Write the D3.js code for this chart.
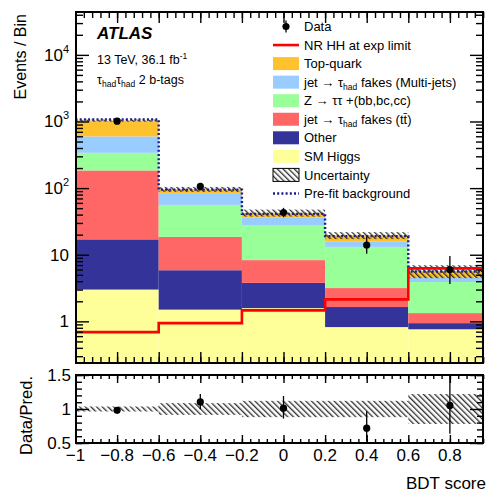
<!DOCTYPE html>
<html><head><meta charset="utf-8">
<script src="https://cdn.jsdelivr.net/npm/d3@7"></script>
<style>
body{margin:0;background:#fff}
svg{display:block;font-family:"Liberation Sans",Arial,Helvetica,sans-serif}
</style>
</head><body>
<svg id="chart" width="487" height="492"></svg>
<script>
// BDT score binning
const binEdges   = [-1, -0.6, -0.2, 0.2, 0.6, 1.0];
const binCenters = [-0.8, -0.4, 0, 0.4, 0.8];

// Background components (events per bin), bottom of the stack first
const smHiggs  = [3.0, 1.5, 1.58, 0.82, 0.76];
const other    = [14.0, 4.35, 2.2, 0.82, 0.18];
const ttFakes  = [167, 12.65, 4.52, 1.52, 0.39];
const zTauTau  = [155, 37.5, 19.1, 9.94, 2.56];
const multijet = [257, 26, 8.6, 2.8, 0.73];
const topQuark = [434, 14, 6.5, 3.6, 1.08];

// Relative total background uncertainty per bin
const relUnc = [0.037, 0.086, 0.12, 0.12, 0.22];

// Pre-fit background total and NR HH signal at the expected limit
const prefit   = [1070, 95, 41, 19, 5.6];
const hhSignal = [0.69, 0.94, 1.46, 2.14, 6.25];

// Observed data with asymmetric Poisson errors
const dataCounts = [1010, 106, 43, 14, 6];
const dataErrLo  = [31.8, 10.3, 6.5, 3.65, 2.38];
const dataErrHi  = [32.8, 11.3, 7.6, 4.83, 3.58];

// Axis tick values
const mainYMajor  = [1, 10, 100, 1000, 10000];
const ratioYMajor = [0.5, 1, 1.5];
const xMajor      = [-1, -0.8, -0.6, -0.4, -0.2, 0, 0.2, 0.4, 0.6, 0.8, 1];
const xLabels     = ["\u22121", "\u22120.8", "\u22120.6", "\u22120.4", "\u22120.2", "0", "0.2", "0.4", "0.6", "0.8", "1"];

const keys = ["smHiggs", "other", "ttFakes", "zTauTau", "multijet", "topQuark"];
const compValues = {smHiggs, other, ttFakes, zTauTau, multijet, topQuark};
const colors = {
  smHiggs: "#ffff99", other: "#333399", ttFakes: "#ff6666",
  zTauTau: "#99ff99", multijet: "#99ccff", topQuark: "#fdc22e"
};

const svg = d3.select("#chart");
const frameL = 76, frameR = 483;
const mainTop = 12, mainBottom = 363, ratTop = 375, ratBottom = 443;

const x  = d3.scaleLinear().domain([-1, 1]).range([75.5, 491.5]);
const y  = d3.scaleLog().domain([0.237, 44000]).range([mainBottom, mainTop]);
const yr = d3.scaleLinear().domain([0.5, 1.5]).range([ratBottom, ratTop]);
const yMin = y.domain()[0];

const defs = svg.append("defs");
defs.append("clipPath").attr("id", "clipMain").append("rect")
  .attr("x", frameL).attr("y", mainTop).attr("width", frameR - frameL).attr("height", mainBottom - mainTop);
defs.append("clipPath").attr("id", "clipRatio").append("rect")
  .attr("x", frameL).attr("y", ratTop).attr("width", frameR - frameL).attr("height", ratBottom - ratTop);
const pat = defs.append("pattern").attr("id", "hatch")
  .attr("patternUnits", "userSpaceOnUse").attr("width", 4).attr("height", 4)
  .attr("patternTransform", "rotate(-45)");
pat.append("line").attr("x1", 0.7).attr("y1", 0).attr("x2", 0.7).attr("y2", 4)
  .attr("stroke", "#1a1a1a").attr("stroke-width", 1.2);

// ---------- main panel ----------
const rows = binCenters.map((c, i) => {
  const r = {x0: binEdges[i], x1: binEdges[i + 1]};
  keys.forEach(k => r[k] = compValues[k][i]);
  return r;
});
const stacked = d3.stack().keys(keys)(rows);
const totals = rows.map(r => d3.sum(keys, k => r[k]));

const gMain = svg.append("g").attr("clip-path", "url(#clipMain)");
stacked.forEach(layer => {
  gMain.append("g").attr("fill", colors[layer.key])
    .selectAll("rect").data(layer).join("rect")
    .attr("x", d => x(d.data.x0))
    .attr("width", d => x(d.data.x1) - x(d.data.x0))
    .attr("y", d => y(d[1]))
    .attr("height", d => y(Math.max(d[0], yMin)) - y(d[1]));
});

// uncertainty band around the total
gMain.append("g").selectAll("rect").data(totals).join("rect")
  .attr("x", (t, i) => x(binEdges[i]))
  .attr("width", (t, i) => x(binEdges[i + 1]) - x(binEdges[i]))
  .attr("y", (t, i) => y(t * (1 + relUnc[i])))
  .attr("height", (t, i) => y(t * (1 - relUnc[i])) - y(t * (1 + relUnc[i])))
  .attr("fill", "url(#hatch)");

const stepPts = vals => vals.map((v, i) => [binEdges[i], v]).concat([[binEdges[vals.length], vals[vals.length - 1]]]);
const stepLine = d3.line().x(d => x(d[0])).y(d => y(d[1])).curve(d3.curveStepAfter);

gMain.append("path").attr("d", stepLine(stepPts(prefit)))
  .attr("fill", "none").attr("stroke", "#1c1c8a").attr("stroke-width", 2.4)
  .attr("stroke-dasharray", "2,2.2");
gMain.append("path").attr("d", stepLine(stepPts(hhSignal)))
  .attr("fill", "none").attr("stroke", "#ff0000").attr("stroke-width", 2.6);

const gData = gMain.append("g");
gData.selectAll("line").data(dataCounts).join("line")
  .attr("x1", (d, i) => x(binCenters[i])).attr("x2", (d, i) => x(binCenters[i]))
  .attr("y1", (d, i) => y(d - dataErrLo[i])).attr("y2", (d, i) => y(d + dataErrHi[i]))
  .attr("stroke", "#000").attr("stroke-width", 1.3);
gData.selectAll("circle").data(dataCounts).join("circle")
  .attr("cx", (d, i) => x(binCenters[i])).attr("cy", d => y(d)).attr("r", 3.6).attr("fill", "#000");

// ---------- ratio panel ----------
const gRat = svg.append("g").attr("clip-path", "url(#clipRatio)");
gRat.selectAll("rect").data(relUnc).join("rect")
  .attr("x", (u, i) => x(binEdges[i]))
  .attr("width", (u, i) => x(binEdges[i + 1]) - x(binEdges[i]))
  .attr("y", u => yr(1 + u)).attr("height", u => yr(1 - u) - yr(1 + u))
  .attr("fill", "url(#hatch)");
const ratios = dataCounts.map((d, i) => d / totals[i]);
gRat.selectAll("line").data(ratios).join("line")
  .attr("x1", (r, i) => x(binCenters[i])).attr("x2", (r, i) => x(binCenters[i]))
  .attr("y1", (r, i) => yr(r - dataErrLo[i] / totals[i])).attr("y2", (r, i) => yr(r + dataErrHi[i] / totals[i]))
  .attr("stroke", "#000").attr("stroke-width", 1.3);
gRat.selectAll("circle").data(ratios).join("circle")
  .attr("cx", (r, i) => x(binCenters[i])).attr("cy", r => yr(r)).attr("r", 3.6).attr("fill", "#000");

// ---------- frames and ticks ----------
function frame(top, bottom) {
  svg.append("rect").attr("x", frameL).attr("y", top).attr("width", frameR - frameL).attr("height", bottom - top)
    .attr("fill", "none").attr("stroke", "#000").attr("stroke-width", 2);
}
function ticks(axisFn, scale, values, size, transform) {
  const g = svg.append("g").attr("transform", transform)
    .call(axisFn(scale).tickValues(values).tickSize(size).tickFormat(""));
  g.select(".domain").remove();
  g.selectAll(".tick line").attr("stroke", "#000").attr("stroke-width", 1.4);
}
const inX = v => x(v) >= frameL - 0.5 && x(v) <= frameR + 0.5;
const xMinor = d3.range(0, 51).map(k => -1 + k * 0.04).filter(v => inX(v));
const xMaj = xMajor.filter(inX);

// main panel
const logMinor = [];
[0.1, 1, 10, 100, 1000, 10000].forEach(dec => {
  for (let m = 2; m <= 9; m++) { const v = dec * m; if (v > yMin && v < y.domain()[1]) logMinor.push(v); }
});
ticks(d3.axisLeft, y, mainYMajor, -13, `translate(${frameL},0)`);
ticks(d3.axisLeft, y, logMinor, -7, `translate(${frameL},0)`);
ticks(d3.axisRight, y, mainYMajor, -13, `translate(${frameR},0)`);
ticks(d3.axisRight, y, logMinor, -7, `translate(${frameR},0)`);
ticks(d3.axisBottom, x, xMaj, -11, `translate(0,${mainBottom})`);
ticks(d3.axisBottom, x, xMinor, -6, `translate(0,${mainBottom})`);
ticks(d3.axisTop, x, xMaj, -11, `translate(0,${mainTop})`);
ticks(d3.axisTop, x, xMinor, -6, `translate(0,${mainTop})`);
frame(mainTop, mainBottom);

// ratio panel
const rMinor = d3.range(0.5, 1.51, 0.1);
ticks(d3.axisLeft, yr, ratioYMajor, -13, `translate(${frameL},0)`);
ticks(d3.axisLeft, yr, rMinor, -6, `translate(${frameL},0)`);
ticks(d3.axisRight, yr, ratioYMajor, -13, `translate(${frameR},0)`);
ticks(d3.axisRight, yr, rMinor, -6, `translate(${frameR},0)`);
ticks(d3.axisBottom, x, xMaj, -8, `translate(0,${ratBottom})`);
ticks(d3.axisBottom, x, xMinor, -4, `translate(0,${ratBottom})`);
ticks(d3.axisTop, x, xMaj, -8, `translate(0,${ratTop})`);
ticks(d3.axisTop, x, xMinor, -4, `translate(0,${ratTop})`);
frame(ratTop, ratBottom);

// ---------- tick labels ----------
const expSup = {100: "2", 1000: "3", 10000: "4"};
mainYMajor.forEach(v => {
  const t = svg.append("text").attr("x", 69).attr("y", y(v) + 6)
    .attr("text-anchor", "end").attr("font-size", 17).attr("fill", "#000");
  if (v === 1) t.text("1");
  else if (v === 10) t.text("10");
  else {
    t.append("tspan").text("10");
    t.append("tspan").attr("font-size", 11).attr("dy", -8).text(expSup[v]);
  }
});
ratioYMajor.forEach(v => {
  svg.append("text").attr("x", 71).attr("y", yr(v) + 6).attr("text-anchor", "end")
    .attr("font-size", 17).attr("fill", "#000").text(String(v));
});
// x labels only for ticks that sit inside the frame
xMajor.forEach((v, i) => {
  if (!inX(v)) return;
  svg.append("text").attr("x", x(v)).attr("y", 461).attr("text-anchor", "middle")
    .attr("font-size", 17).attr("fill", "#000").text(xLabels[i]);
});

// axis titles
svg.append("text").attr("transform", `translate(26,14) rotate(-90)`).attr("text-anchor", "end")
  .attr("font-size", 16).attr("fill", "#000").text("Events / Bin");
svg.append("text").attr("transform", `translate(32,376) rotate(-90)`).attr("text-anchor", "end")
  .attr("font-size", 16.5).attr("fill", "#000").text("Data/Pred.");
svg.append("text").attr("x", 486).attr("y", 489).attr("text-anchor", "end")
  .attr("font-size", 17).attr("fill", "#000").text("BDT score");

// ---------- ATLAS labels ----------
svg.append("text").attr("x", 97).attr("y", 39).attr("font-size", 17).attr("font-weight", "bold")
  .attr("font-style", "italic").attr("fill", "#000").text("ATLAS");
const lumi = svg.append("text").attr("x", 97).attr("y", 64).attr("font-size", 12.5).attr("fill", "#000");
lumi.append("tspan").text("13 TeV, 36.1 fb");
lumi.append("tspan").attr("font-size", 8.5).attr("dy", -5).text("-1");
const chan = svg.append("text").attr("x", 97).attr("y", 84).attr("font-size", 12.5).attr("fill", "#000");
chan.append("tspan").text("\u03c4");
chan.append("tspan").attr("font-size", 8.5).attr("dy", 3).text("had");
chan.append("tspan").attr("dy", -3).text("\u03c4");
chan.append("tspan").attr("font-size", 8.5).attr("dy", 3).text("had");
chan.append("tspan").attr("dy", -3).text(" 2 b-tags");

// ---------- legend ----------
const legendItems = [
  {type: "data",   parts: [["Data"]]},
  {type: "line",   parts: [["NR HH at exp limit"]]},
  {type: "box",    key: "topQuark", parts: [["Top-quark"]]},
  {type: "box",    key: "multijet", parts: [["jet \u2192 \u03c4"], ["had", "sub"], [" fakes (Multi-jets)"]]},
  {type: "box",    key: "zTauTau",  parts: [["Z \u2192 \u03c4\u03c4 +(bb,bc,cc)"]]},
  {type: "box",    key: "ttFakes",  parts: [["jet \u2192 \u03c4"], ["had", "sub"], [" fakes (tt\u0304)"]]},
  {type: "box",    key: "other",    parts: [["Other"]]},
  {type: "box",    key: "smHiggs",  parts: [["SM Higgs"]]},
  {type: "hatch",  parts: [["Uncertainty"]]},
  {type: "dotted", parts: [["Pre-fit background"]]}
];
const lgX = 273, lgW = 26, lgY0 = 26.5, lgDy = 18.55;
legendItems.forEach((it, i) => {
  const cy = lgY0 + i * lgDy;
  const g = svg.append("g");
  if (it.type === "data") {
    g.append("line").attr("x1", lgX + lgW / 2).attr("x2", lgX + lgW / 2).attr("y1", cy - 6).attr("y2", cy + 6)
      .attr("stroke", "#000").attr("stroke-width", 1.3);
    g.append("circle").attr("cx", lgX + lgW / 2).attr("cy", cy).attr("r", 3.6).attr("fill", "#000");
  } else if (it.type === "line") {
    g.append("line").attr("x1", lgX).attr("x2", lgX + lgW).attr("y1", cy).attr("y2", cy)
      .attr("stroke", "#ff0000").attr("stroke-width", 2.6);
  } else if (it.type === "box") {
    g.append("rect").attr("x", lgX).attr("y", cy - 6.5).attr("width", lgW).attr("height", 13).attr("fill", colors[it.key]);
  } else if (it.type === "hatch") {
    g.append("rect").attr("x", lgX).attr("y", cy - 6.5).attr("width", lgW).attr("height", 13)
      .attr("fill", "url(#hatch)").attr("stroke", "#000").attr("stroke-width", 1);
  } else if (it.type === "dotted") {
    g.append("line").attr("x1", lgX).attr("x2", lgX + lgW).attr("y1", cy).attr("y2", cy)
      .attr("stroke", "#1c1c8a").attr("stroke-width", 2.4).attr("stroke-dasharray", "2,2.2");
  }
  const t = g.append("text").attr("x", 304).attr("y", cy + 4.6).attr("font-size", 13).attr("fill", "#000");
  let shifted = false;
  it.parts.forEach(p => {
    const ts = t.append("tspan").text(p[0]);
    if (p[1] === "sub") { ts.attr("font-size", 8.5).attr("dy", 3); shifted = true; }
    else if (shifted) { ts.attr("dy", -3); shifted = false; }
  });
});
</script>
</body></html>
